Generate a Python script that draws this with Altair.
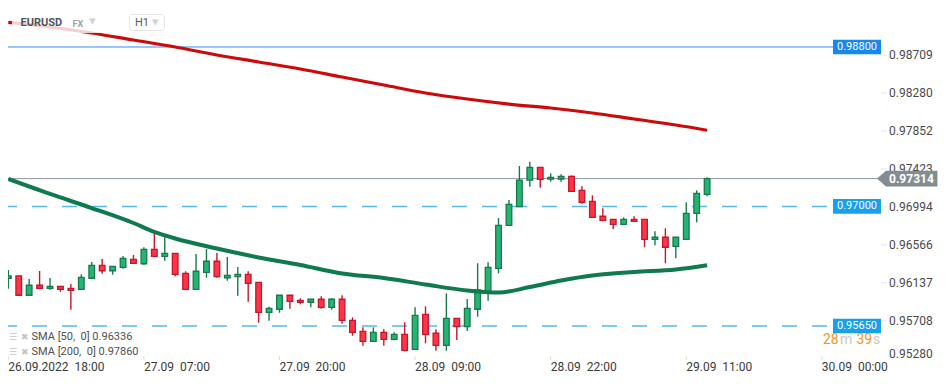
import altair as alt
import pandas as pd

# ---------------- data ----------------
hours = list(range(68))  # hourly candles, 26.09 18:00 -> 29.09 13:00
opens = [0.96189, 0.96215, 0.95997, 0.96110, 0.96076, 0.96098, 0.96076, 0.96064, 0.96189, 0.96335,
         0.96274, 0.96313, 0.96403, 0.96353, 0.96516, 0.96437, 0.96471, 0.96245, 0.96064, 0.96256,
         0.96381, 0.96195, 0.96207, 0.96234, 0.96143, 0.95805, 0.95839, 0.95997, 0.95940, 0.95918,
         0.95952, 0.95861, 0.95952, 0.95714, 0.95590, 0.95477, 0.95579, 0.95500, 0.95556, 0.95387,
         0.95782, 0.95568, 0.95432, 0.95737, 0.95642, 0.95839, 0.96037, 0.96301, 0.96787, 0.96997,
         0.97298, 0.97442, 0.97310, 0.97310, 0.97340, 0.97182, 0.97058, 0.96889, 0.96855, 0.96798,
         0.96855, 0.96855, 0.96629, 0.96652, 0.96550, 0.96629, 0.96922, 0.97137]
highs = [0.96282, 0.96220, 0.96181, 0.96271, 0.96192, 0.96101, 0.96124, 0.96234, 0.96373, 0.96406,
         0.96327, 0.96440, 0.96452, 0.96539, 0.96703, 0.96666, 0.96474, 0.96268, 0.96463, 0.96519,
         0.96474, 0.96429, 0.96316, 0.96268, 0.96147, 0.95868, 0.96000, 0.96000, 0.95963, 0.95955,
         0.95985, 0.95963, 0.95997, 0.95748, 0.95635, 0.95635, 0.95613, 0.95579, 0.95692, 0.95861,
         0.95872, 0.95613, 0.96019, 0.95741, 0.95955, 0.96358, 0.96369, 0.96869, 0.97073, 0.97456,
         0.97505, 0.97445, 0.97374, 0.97363, 0.97351, 0.97227, 0.97126, 0.96979, 0.96858, 0.96877,
         0.96889, 0.96858, 0.96719, 0.96753, 0.96655, 0.97047, 0.97182, 0.97329]
lows = [0.96071, 0.95989, 0.95992, 0.96071, 0.96060, 0.96037, 0.95834, 0.96060, 0.96185, 0.96240,
        0.96229, 0.96297, 0.96353, 0.96342, 0.96433, 0.96387, 0.96211, 0.96060, 0.96060, 0.96195,
        0.96195, 0.96161, 0.95992, 0.95924, 0.95687, 0.95710, 0.95800, 0.95845, 0.95895, 0.95861,
        0.95845, 0.95834, 0.95676, 0.95540, 0.95428, 0.95472, 0.95428, 0.95489, 0.95364, 0.95383,
        0.95455, 0.95371, 0.95371, 0.95492, 0.95594, 0.95755, 0.95936, 0.96245, 0.96780, 0.96994,
        0.97223, 0.97212, 0.97279, 0.97279, 0.97167, 0.97031, 0.96873, 0.96832, 0.96742, 0.96794,
        0.96828, 0.96539, 0.96561, 0.96358, 0.96414, 0.96625, 0.96821, 0.97114]
closes = [0.96215, 0.95997, 0.96110, 0.96076, 0.96098, 0.96064, 0.96053, 0.96200, 0.96335, 0.96274,
          0.96324, 0.96414, 0.96358, 0.96516, 0.96437, 0.96471, 0.96234, 0.96064, 0.96268, 0.96381,
          0.96207, 0.96222, 0.96234, 0.96132, 0.95805, 0.95850, 0.95997, 0.95929, 0.95918, 0.95952,
          0.95861, 0.95952, 0.95714, 0.95579, 0.95477, 0.95579, 0.95500, 0.95556, 0.95376, 0.95771,
          0.95556, 0.95432, 0.95737, 0.95642, 0.95850, 0.96057, 0.96313, 0.96787, 0.97024, 0.97298,
          0.97442, 0.97306, 0.97329, 0.97340, 0.97171, 0.97047, 0.96877, 0.96843, 0.96798, 0.96855,
          0.96832, 0.96629, 0.96652, 0.96539, 0.96652, 0.96922, 0.97148, 0.97314]

sma50_idx = [0, 4, 8, 12, 14, 16, 20, 24, 28, 32, 36, 40, 44, 47, 50, 53, 56, 60, 64, 67]
sma50_val = [0.97310, 0.97141, 0.96982, 0.96813, 0.96712, 0.96638, 0.96525, 0.96424, 0.96339, 0.96243,
             0.96192, 0.96119, 0.96051, 0.96028, 0.96090, 0.96164, 0.96220, 0.96260, 0.96288, 0.96336]
sma200_idx = [0, 4, 8, 12, 16, 20, 24, 28, 32, 36, 40, 44, 48, 52, 56, 60, 64, 67]
sma200_val = [0.99077, 0.99026, 0.98958, 0.98879, 0.98800, 0.98710, 0.98631, 0.98552, 0.98461,
              0.98371, 0.98281, 0.98213, 0.98156, 0.98111, 0.98055, 0.97987, 0.97919, 0.97860]

top_level = [0.98800]
top_label = ["0.98800"]
dash_levels = [0.97000, 0.95650]
dash_labels = ["0.97000", "0.95650"]
cur_price = [0.97314]
cur_label = ["0.97314"]

axis_vals = [0.98709, 0.98280, 0.97852, 0.97423, 0.96994, 0.96566, 0.96137, 0.95708]
axis_last = [0.95280]

tick_idx = [0, 13, 26, 39, 52, 65, 78]
tick_labels = ["26.09.2022\u00a0\u00a018:00", "27.09\u00a0\u00a007:00", "27.09\u00a0\u00a020:00",
               "28.09\u00a0\u00a009:00", "28.09\u00a0\u00a022:00", "29.09\u00a0\u00a011:00",
               "30.09\u00a0\u00a000:00"]

legend_lines = ["SMA [50,\u00a0 0] 0.96336", "SMA [200,\u00a0 0] 0.97860"]

# ---------------- styling ----------------
W, H = 933, 368
XD = [-0.029, 89.424]
YD = [0.950856, 0.992403]
FONT = "Roboto"
G_FILL, G_LINE = "#26b475", "#177a4b"
R_FILL, R_LINE = "#ff3448", "#c3172b"


def xs():
    return alt.Scale(domain=XD, nice=False, zero=False)


def ys():
    return alt.Scale(domain=YD, nice=False, zero=False)


def X(f):
    return alt.X(f, scale=xs(), axis=None)


def Y(f):
    return alt.Y(f, scale=ys(), axis=None)


df = pd.DataFrame({"i": hours, "open": opens, "high": highs, "low": lows, "close": closes})
df["dir"] = ["up" if c >= o else "down" for o, c in zip(opens, closes)]

one = pd.DataFrame({"k": [0]})

# horizontal levels
top_df = pd.DataFrame({"p": top_level, "t": top_label})
dash_df = pd.DataFrame({"p": dash_levels, "t": dash_labels})
cur_df = pd.DataFrame({"p": cur_price, "t": cur_label})

top_rule = alt.Chart(top_df).mark_rule(color="#2f8ded", strokeWidth=1).encode(
    y=Y("p:Q"), x=alt.value(0), x2=alt.value(825))
dash_rule = alt.Chart(dash_df).mark_rule(color="#56b9ec", strokeWidth=1.5, strokeDash=[15, 15],
                                         strokeDashOffset=6).encode(
    y=Y("p:Q"), x=alt.value(0), x2=alt.value(825))
cur_rule = alt.Chart(cur_df).mark_rule(color="#8c969b", strokeWidth=1).encode(
    y=Y("p:Q"), x=alt.value(0), x2=alt.value(870))

# SMA lines
sma50 = alt.Chart(pd.DataFrame({"i": sma50_idx, "v": sma50_val})).mark_line(
    color="#0e7a4e", strokeWidth=4, interpolate="monotone").encode(x=X("i:Q"), y=Y("v:Q"))
sma200 = alt.Chart(pd.DataFrame({"i": sma200_idx, "v": sma200_val})).mark_line(
    color="#cc0a0a", strokeWidth=3.2, interpolate="monotone").encode(x=X("i:Q"), y=Y("v:Q"))

# candles
wicks = alt.Chart(df).mark_rule(strokeWidth=1.4).encode(
    x=X("i:Q"), y=Y("low:Q"), y2="high:Q",
    color=alt.Color("dir:N", scale=alt.Scale(domain=["up", "down"], range=[G_LINE, R_LINE]), legend=None))
bodies = alt.Chart(df).transform_calculate(
    x0="datum.i - 0.27", x1="datum.i + 0.27").mark_rect(strokeWidth=1.3).encode(
    x=X("x0:Q"), x2="x1:Q", y=Y("open:Q"), y2="close:Q",
    fill=alt.Fill("dir:N", scale=alt.Scale(domain=["up", "down"], range=[G_FILL, R_FILL]), legend=None),
    stroke=alt.Stroke("dir:N", scale=alt.Scale(domain=["up", "down"], range=[G_LINE, R_LINE]), legend=None))

# right axis labels
ylab = alt.Chart(pd.DataFrame({"p": axis_vals})).mark_text(
    align="left", baseline="middle", font=FONT, fontSize=12, color="#4a4a4a").encode(
    y=Y("p:Q"), x=alt.value(881), text=alt.Text("p:Q", format=".5f"))
ylab_last = alt.Chart(pd.DataFrame({"p": axis_last})).mark_text(
    align="left", baseline="middle", font=FONT, fontSize=12, color="#4a4a4a", dy=-5).encode(
    y=Y("p:Q"), x=alt.value(881), text=alt.Text("p:Q", format=".5f"))
ytick = alt.Chart(pd.DataFrame({"p": axis_vals})).mark_rule(color="#e4e4e4", strokeWidth=1).encode(
    y=Y("p:Q"), x=alt.value(873), x2=alt.value(879))

# level boxes
top_box = alt.Chart(top_df).transform_calculate(
    a="datum.p + 0.00083", b="datum.p - 0.00083").mark_rect(color="#1589f0").encode(
    y=Y("a:Q"), y2="b:Q", x=alt.value(825), x2=alt.value(873))
dash_box = alt.Chart(dash_df).transform_calculate(
    a="datum.p + 0.00083", b="datum.p - 0.00083").mark_rect(color="#17a0ec").encode(
    y=Y("a:Q"), y2="b:Q", x=alt.value(825), x2=alt.value(873))
box_text = alt.layer(
    alt.Chart(top_df).mark_text(align="left", baseline="middle", font=FONT, fontSize=11,
                                color="white").encode(y=Y("p:Q"), x=alt.value(829), text="t:N"),
    alt.Chart(dash_df).mark_text(align="left", baseline="middle", font=FONT, fontSize=11,
                                 color="white").encode(y=Y("p:Q"), x=alt.value(829), text="t:N"),
)
cur_box = alt.Chart(cur_df).mark_point(
    shape="M -1.15 0 L 0 -1 L 6.6 -1 L 6.6 1 L 0 1 Z", size=243, filled=True,
    color="#838c91", opacity=1, strokeWidth=0).encode(y=Y("p:Q"), x=alt.value(878))
cur_text = alt.Chart(cur_df).mark_text(
    align="left", baseline="middle", font=FONT, fontSize=12, fontWeight="bold", color="white").encode(
    y=Y("p:Q"), x=alt.value(881), text="t:N")

# bottom date axis
tick_df = pd.DataFrame({"i": tick_idx, "t": tick_labels})
date_lab = alt.Chart(tick_df).mark_text(
    align="left", baseline="middle", font=FONT, fontSize=12, color="#3a3a3a").encode(
    x=X("i:Q"), y=alt.value(358.5), text="t:N")
date_tick = alt.Chart(tick_df).mark_rule(color="#dddddd").encode(
    x=X("i:Q"), y=alt.value(348), y2=alt.value(352))

# header
head_bg = alt.Chart(one).mark_rect(color="white", opacity=0.8).encode(
    x=alt.value(4), x2=alt.value(105), y=alt.value(4), y2=alt.value(25))
head_sym = alt.Chart(pd.DataFrame({"t": ["EURUSD"]})).mark_text(
    align="left", baseline="middle", font=FONT, fontSize=11, fontWeight="bold", color="#4d555b").encode(
    x=alt.value(12.5), y=alt.value(14.5), text="t:N")
head_fx = alt.Chart(pd.DataFrame({"t": ["FX"]})).mark_text(
    align="left", baseline="middle", font=FONT, fontSize=9, fontWeight="bold", color="#9aa3a8").encode(
    x=alt.value(64.5), y=alt.value(15.5), text="t:N")
head_arr1 = alt.Chart(pd.DataFrame({"t": ["\u25be"]})).mark_text(
    align="left", baseline="middle", font="DejaVu Sans", fontSize=13, color="#cfd3d6").encode(
    x=alt.value(81), y=alt.value(13), text="t:N")
h1_box = alt.Chart(one).mark_rect(fill="white", stroke="#e2e4e6", strokeWidth=1, cornerRadius=3).encode(
    x=alt.value(121.5), x2=alt.value(156.5), y=alt.value(6.5), y2=alt.value(22.5))
h1_text = alt.Chart(pd.DataFrame({"t": ["H1"]})).mark_text(
    align="left", baseline="middle", font=FONT, fontSize=11, color="#555b60").encode(
    x=alt.value(127), y=alt.value(15), text="t:N")
h1_arr = alt.Chart(pd.DataFrame({"t": ["\u25be"]})).mark_text(
    align="left", baseline="middle", font="DejaVu Sans", fontSize=13, color="#cfd3d6").encode(
    x=alt.value(144), y=alt.value(14), text="t:N")

# legend bottom-left
leg_df = pd.DataFrame({"t": legend_lines, "r": [0, 1]})
leg_text = alt.Chart(leg_df).transform_calculate(yy="328.5 + datum.r * 15").mark_text(
    align="left", baseline="middle", font=FONT, fontSize=11, color="#505050").encode(
    x=alt.value(23.5), y=alt.Y("yy:Q", scale=None, axis=None), text="t:N")
leg_icon = alt.Chart(leg_df).transform_calculate(yy="328.5 + datum.r * 15").mark_text(
    align="left", baseline="middle", font="DejaVu Sans", fontSize=9, color="#c4c4c4").encode(
    x=alt.value(1), y=alt.Y("yy:Q", scale=None, axis=None), text=alt.value("\u2630"))
leg_x = alt.Chart(leg_df).transform_calculate(yy="328.5 + datum.r * 15").mark_text(
    align="left", baseline="middle", font="DejaVu Sans", fontSize=9, fontWeight="bold", color="#c4c4c4").encode(
    x=alt.value(13), y=alt.Y("yy:Q", scale=None, axis=None), text=alt.value("\u2716"))

# countdown
cd_parts = ["28", "m", "39", "s"]
cd = alt.layer(
    alt.Chart(pd.DataFrame({"t": [cd_parts[0]]})).mark_text(
        align="left", baseline="middle", font=FONT, fontSize=14, color="#f5941f").encode(
        x=alt.value(815), y=alt.value(332), text="t:N"),
    alt.Chart(pd.DataFrame({"t": [cd_parts[1]]})).mark_text(
        align="left", baseline="middle", font=FONT, fontSize=14, color="#c9c9c9").encode(
        x=alt.value(832), y=alt.value(332), text="t:N"),
    alt.Chart(pd.DataFrame({"t": [cd_parts[2]]})).mark_text(
        align="left", baseline="middle", font=FONT, fontSize=14, color="#f5941f").encode(
        x=alt.value(848.5), y=alt.value(332), text="t:N"),
    alt.Chart(pd.DataFrame({"t": [cd_parts[3]]})).mark_text(
        align="left", baseline="middle", font=FONT, fontSize=14, color="#c9c9c9").encode(
        x=alt.value(865), y=alt.value(332), text="t:N"),
)

chart = alt.layer(
    dash_rule, top_rule, cur_rule, ytick, ylab, ylab_last, date_tick, date_lab,
    wicks, bodies, sma200, sma50,
    top_box, dash_box, box_text, cur_box, cur_text,
    head_bg, head_sym, head_fx, head_arr1, h1_box, h1_text, h1_arr,
    leg_icon, leg_x, leg_text, cd,
).properties(
    width=W, height=H, autosize=alt.AutoSizeParams(type="none"), padding=0,
).configure_view(stroke=None)

chart.save("out.html", embed_options={"renderer": "svg", "actions": False})
